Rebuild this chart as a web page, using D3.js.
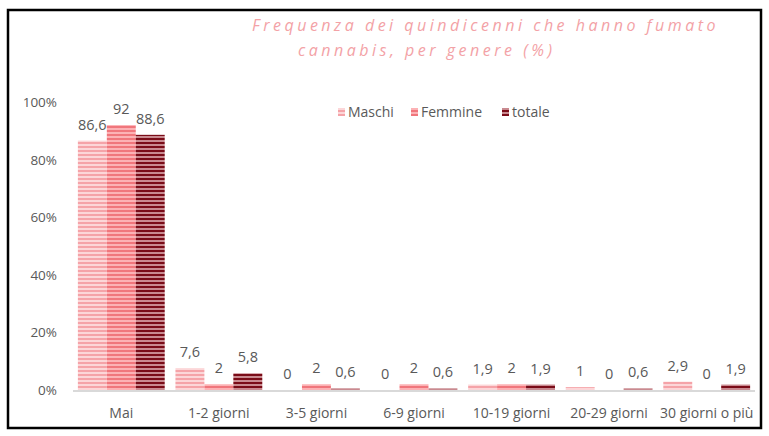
<!DOCTYPE html>
<html>
<head>
<meta charset="utf-8">
<script src="https://cdn.jsdelivr.net/npm/d3@7"></script>
<style>
  body { margin: 0; background: #fff; }
  text { font-family: "Open Sans", sans-serif; }
</style>
</head>
<body>
<div id="chart"></div>
<script>

var categories = ["Mai", "1-2 giorni", "3-5 giorni", "6-9 giorni", "10-19 giorni", "20-29 giorni", "30 giorni o più"]
var seriesNames = ["Maschi", "Femmine", "totale"]
var maschi = [86.6, 7.6, 0, 0, 1.9, 1, 2.9]
var femmine = [92, 2, 2, 2, 2, 0, 0]
var totale = [88.6, 5.8, 0.6, 0.6, 1.9, 0.6, 1.9]
var yTicks = [0, 20, 40, 60, 80, 100]

var width = 769, height = 436

var fills = {
    Maschi: { bg: "#fcd6d8", line: "#f5a3a8" },
    Femmine: { bg: "#fcb2b5", line: "#f0767c" },
    totale: { bg: "#c98a90", line: "#7a0c18" }
}

var svg = d3.select("#chart").append("svg")
    .attr("width", width)
    .attr("height", height)

var defs = svg.append("defs")

seriesNames.forEach(function(name) {
    var p = defs.append("pattern")
        .attr("id", "pat-" + name)
        .attr("patternUnits", "userSpaceOnUse")
        .attr("width", 8)
        .attr("height", 4)
    p.append("rect").attr("width", 8).attr("height", 4).attr("fill", fills[name].bg)
    p.append("rect").attr("y", 2).attr("width", 8).attr("height", 2).attr("fill", fills[name].line)
})

// frame
svg.append("rect")
    .attr("x", 8).attr("y", 10)
    .attr("width", 753).attr("height", 418)
    .attr("fill", "none")
    .attr("stroke", "#000")
    .attr("stroke-width", 2.5)

// title
var title = svg.append("g")
    .attr("fill", "#f3a2a6")
    .style("font-style", "italic")
    .style("font-size", "16px")
    .style("letter-spacing", "3.5px")

title.append("text").attr("x", 252).attr("y", 31).text("Frequenza dei quindicenni che hanno fumato")
title.append("text").attr("x", 298).attr("y", 56).text("cannabis, per genere (%)")

var x0 = d3.scaleBand()
    .domain(categories)
    .range([73, 755])
    .paddingInner(0.11)
    .paddingOuter(0.05)

var x1 = d3.scaleBand()
    .domain(seriesNames)
    .range([0, x0.bandwidth()])

var y = d3.scaleLinear()
    .domain([0, 100])
    .range([390, 102])

// y tick labels
svg.append("g")
    .selectAll("text")
    .data(yTicks)
    .enter()
    .append("text")
    .attr("x", 57)
    .attr("y", function(d) { return y(d) + 5 })
    .attr("text-anchor", "end")
    .attr("fill", "#595959")
    .style("font-size", "13.5px")
    .text(function(d) { return d + "%" })

var values = { Maschi: maschi, Femmine: femmine, totale: totale }

var rows = categories.map(function(c, i) {
    return seriesNames.map(function(s) {
        return { cat: c, series: s, value: values[s][i] }
    })
})

var groups = svg.append("g")
    .selectAll("g")
    .data(rows)
    .enter()
    .append("g")
    .attr("transform", function(d, i) { return "translate(" + x0(categories[i]) + ",0)" })

groups.selectAll("rect")
    .data(function(d) { return d })
    .enter()
    .append("rect")
    .attr("x", function(d) { return x1(d.series) })
    .attr("y", function(d) { return y(d.value) })
    .attr("width", x1.bandwidth())
    .attr("height", function(d) { return y(0) - y(d.value) })
    .attr("fill", function(d) { return "url(#pat-" + d.series + ")" })

groups.selectAll("text")
    .data(function(d) { return d })
    .enter()
    .append("text")
    .attr("x", function(d) { return x1(d.series) + x1.bandwidth() / 2 })
    .attr("y", function(d) { return y(d.value) - 11 })
    .attr("text-anchor", "middle")
    .attr("fill", "#595959")
    .style("font-size", "14.5px")
    .text(function(d) { return String(d.value).replace(".", ",") })

// baseline
svg.append("line")
    .attr("x1", 73).attr("x2", 755)
    .attr("y1", y(0) + 1).attr("y2", y(0) + 1)
    .attr("stroke", "#d9d9d9")
    .attr("stroke-width", 2)

// category labels
svg.append("g")
    .selectAll("text")
    .data(categories)
    .enter()
    .append("text")
    .attr("x", function(d) { return x0(d) + x0.bandwidth() / 2 })
    .attr("y", 418)
    .attr("text-anchor", "middle")
    .attr("fill", "#595959")
    .style("font-size", "14px")
    .text(function(d) { return d })

// legend
var legendX = [338, 411, 502]
var legend = svg.append("g")
    .selectAll("g")
    .data(seriesNames)
    .enter()
    .append("g")
    .attr("transform", function(d, i) { return "translate(" + legendX[i] + ",108)" })

legend.append("rect")
    .attr("width", 7).attr("height", 8)
    .attr("fill", function(d) { return "url(#pat-" + d + ")" })

legend.append("text")
    .attr("x", 10)
    .attr("y", 9)
    .attr("fill", "#595959")
    .style("font-size", "14px")
    .text(function(d) { return d })

</script>
</body>
</html>
